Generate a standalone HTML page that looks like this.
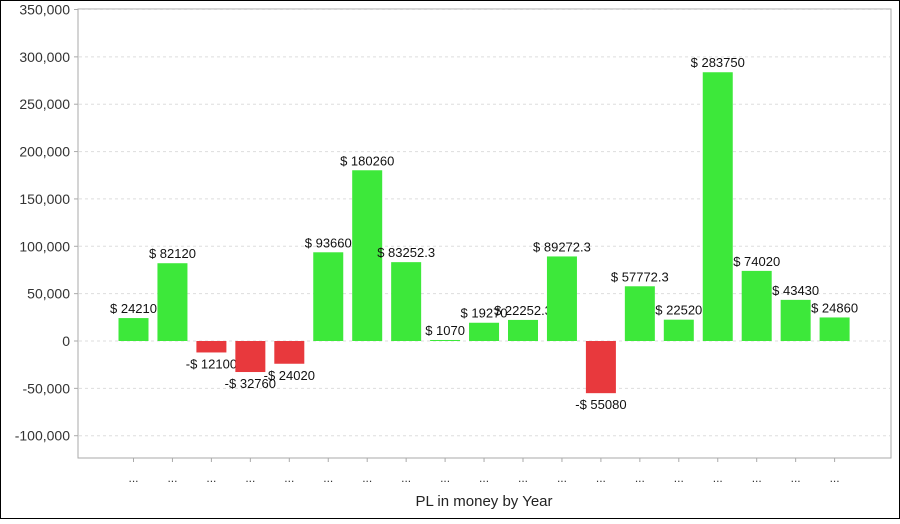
<!DOCTYPE html>
<html><head><meta charset="utf-8"><style>
body{margin:0;background:#fff;}
svg text{font-family:"Liberation Sans",sans-serif;}
</style></head><body>
<svg id="chart" width="900" height="519" xmlns="http://www.w3.org/2000/svg">
<rect x="0.5" y="0.5" width="899" height="518" fill="#fff" stroke="#000"/>
<rect x="78" y="9" width="813" height="449" fill="#fff" stroke="#aaa"/>
<g id="grid"></g><g id="bars"></g><g id="axes"></g>
<text x="484" y="506" font-size="15" text-anchor="middle" fill="#222">PL in money by Year</text>
</svg>
<script>
const categories=["...","...","...","...","...","...","...","...","...","...","...","...","...","...","...","...","...","...","..."];
const values=[24210,82120,-12100,-32760,-24020,93660,180260,83252.3,1070,19270,22252.3,89272.3,-55080,57772.3,22520,283750,74020,43430,24860];
const ticks=[350000,300000,250000,200000,150000,100000,50000,0,-50000,-100000];
const ns="http://www.w3.org/2000/svg";
function y(v){return 341-v*(331.5/350000);}
function x(i){return 133.5+i*38.95;}
function mk(t,a,p){const e=document.createElementNS(ns,t);for(const k in a)e.setAttribute(k,a[k]);p.appendChild(e);return e;}
const grid=document.getElementById('grid'),bars=document.getElementById('bars'),axes=document.getElementById('axes');
ticks.forEach(t=>{
 const l=mk('line',{x1:79,x2:890,y1:y(t),y2:y(t),stroke:'#ddd','stroke-dasharray':'3,3'},grid);
 
 
 const tk=mk('line',{x1:74,x2:78,y1:y(t),y2:y(t),stroke:'#aaa'},axes);
 
 
 const tx=mk('text',{x:70,y:y(t)+5,'font-size':14,'text-anchor':'end',fill:'#333'},axes);
 tx.textContent=t.toLocaleString('en-US');
 
 
});
values.forEach((v,i)=>{
 const top=Math.min(y(v),y(0)),h=Math.abs(y(v)-y(0));
 const r=mk('rect',{x:x(i)-15,y:top,width:30,height:Math.max(h,1),fill:v>=0?'#3de83a':'#e8393d'},bars);
 
 
 const t=mk('text',{x:x(i),y:v>=0?y(v)-5:y(v)+16,'font-size':13,'text-anchor':'middle',fill:'#111'},bars);
 t.textContent=(v<0?'-$ ':'$ ')+Math.abs(v);
 
 
 const tk=mk('line',{x1:x(i),x2:x(i),y1:458,y2:462,stroke:'#aaa'},axes);
 
 
 const c=mk('text',{x:x(i),y:482,'font-size':12,'text-anchor':'middle',fill:'#333'},axes);
 c.textContent=categories[i];
 
 
});
</script>
</body></html>
